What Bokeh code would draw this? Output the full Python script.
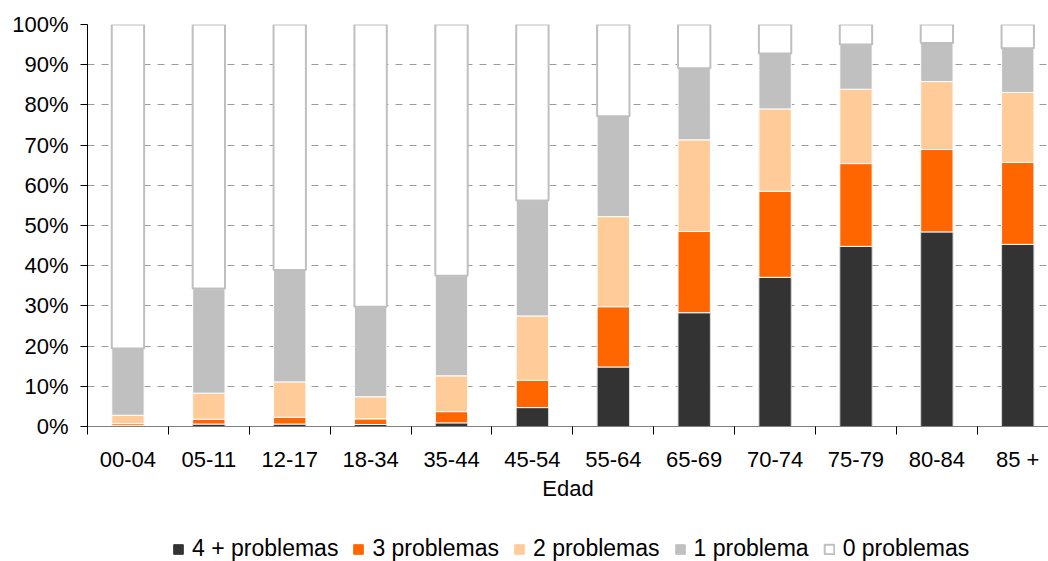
from bokeh.plotting import figure
from bokeh.layouts import column
from bokeh.models import (ColumnDataSource, FixedTicker, Range1d, PrintfTickFormatter,
                          Legend, LegendItem)
from bokeh.embed import file_html
from bokeh.resources import INLINE

edades = ["00-04", "05-11", "12-17", "18-34", "35-44", "45-54",
          "55-64", "65-69", "70-74", "75-79", "80-84", "85 +"]
series = ["4 + problemas", "3 problemas", "2 problemas", "1 problema", "0 problemas"]

p4 = [0.2, 0.6, 0.6, 0.5, 0.9, 4.7, 14.8, 28.3, 37.1, 44.8, 48.4, 45.3]
p3 = [0.5, 1.2, 1.7, 1.4, 2.8, 6.8, 15.0, 20.2, 21.4, 20.6, 20.5, 20.4]
p2 = [2.1, 6.5, 8.8, 5.5, 8.9, 16.0, 22.4, 22.8, 20.5, 18.5, 16.9, 17.4]
p1 = [16.6, 26.0, 27.8, 22.4, 24.9, 28.7, 25.0, 17.8, 13.8, 11.1, 9.6, 11.0]
p0 = [80.6, 65.7, 61.1, 70.2, 62.5, 43.8, 22.8, 10.9, 7.2, 5.0, 4.6, 5.9]

y_ticks = [0, 10, 20, 30, 40, 50, 60, 70, 80, 90, 100]

colors = ["#333333", "#FF6600", "#FFCC99", "#C0C0C0", "#FFFFFF"]
line_colors = ["#d9d9d9", "#FFFFFF", "#FFFFFF", "#FFFFFF", "#BFBFBF"]
legend_line_colors = ["#333333", "#FF6600", "#FFCC99", "#C0C0C0", "#BFBFBF"]
line_widths = [1, 1, 1, 1, 2]

FONT = "Liberation Sans"
FS = "22px"

x = [i + 0.5 for i in range(len(edades))]
keys = ["p4", "p3", "p2", "p1", "p0"]
source = ColumnDataSource(dict(x=x, p4=p4, p3=p3, p2=p2, p1=p1, p0=p0))

# ---------------- main chart ----------------
p = figure(width=1048, height=510, x_range=Range1d(0, 11.88), y_range=Range1d(0, 100),
           output_backend="svg", toolbar_location=None,
           min_border_left=87, min_border_right=0, min_border_top=24, min_border_bottom=84)
p.outline_line_color = None
p.background_fill_color = "white"
p.border_fill_color = "white"

renderers = p.vbar_stack(keys, x="x", width=0.4, source=source,
                         fill_color=colors, line_color=line_colors, line_width=line_widths)

p.xgrid.visible = False
p.ygrid.ticker = FixedTicker(ticks=y_ticks)
p.ygrid.grid_line_color = "#9a9a9a"
p.ygrid.grid_line_dash = "7 7"
p.ygrid.grid_line_width = 1

p.yaxis.ticker = FixedTicker(ticks=y_ticks)
p.yaxis.formatter = PrintfTickFormatter(format="%d%%")
p.yaxis.axis_line_color = "black"
p.yaxis.major_tick_line_color = "black"
p.yaxis.major_tick_out = 7
p.yaxis.major_tick_in = 0
p.yaxis.minor_tick_line_color = None
p.yaxis.major_label_standoff = 12
p.yaxis.major_label_text_font = FONT
p.yaxis.major_label_text_font_size = FS
p.yaxis.major_label_text_color = "black"

p.xaxis.ticker = FixedTicker(ticks=x, minor_ticks=list(range(len(edades))))
p.xaxis.major_label_overrides = {xi: lab for xi, lab in zip(x, edades)}
p.xaxis.axis_line_color = "#808080"
p.xaxis.major_tick_line_color = None
p.xaxis.major_tick_out = 8
p.xaxis.major_tick_in = 0
p.xaxis.minor_tick_line_color = "black"
p.xaxis.minor_tick_out = 8
p.xaxis.minor_tick_in = 0
p.xaxis.major_label_standoff = 12
p.xaxis.major_label_text_font = FONT
p.xaxis.major_label_text_font_size = FS
p.xaxis.major_label_text_color = "black"
p.xaxis.axis_label = "Edad"
p.xaxis.axis_label_text_font = FONT
p.xaxis.axis_label_text_font_size = FS
p.xaxis.axis_label_text_font_style = "normal"
p.xaxis.axis_label_text_color = "black"
p.xaxis.axis_label_standoff = 1

# ---------------- legend strip ----------------
pl = figure(width=1048, height=51, x_range=Range1d(0, 11.88), y_range=Range1d(0, 100),
            output_backend="svg", toolbar_location=None,
            x_axis_type=None, y_axis_type=None,
            min_border_left=0, min_border_right=0, min_border_top=0, min_border_bottom=0)
pl.outline_line_color = None
pl.xgrid.visible = False
pl.ygrid.visible = False
pl.background_fill_color = "white"
pl.border_fill_color = "white"

leg_renderers = pl.vbar_stack(keys, x="x", width=0.4, source=source,
                              fill_color=colors, line_color=legend_line_colors,
                              line_width=line_widths)
for r in leg_renderers:
    r.visible = False

legend = Legend(items=[LegendItem(label=s, renderers=[r]) for s, r in zip(series, leg_renderers)],
                orientation="horizontal", location=(85, -1))
legend.label_text_font = FONT
legend.label_text_font_size = "23px"
legend.label_text_color = "black"
legend.glyph_width = 12
legend.glyph_height = 12
legend.label_standoff = 8
legend.spacing = 14
legend.padding = 0
legend.margin = 0
legend.border_line_color = None
legend.background_fill_alpha = 0
legend.inactive_fill_alpha = 0
pl.add_layout(legend, "center")

layout = column(p, pl, spacing=0)
open("out.html", "w").write(file_html(layout, INLINE))
